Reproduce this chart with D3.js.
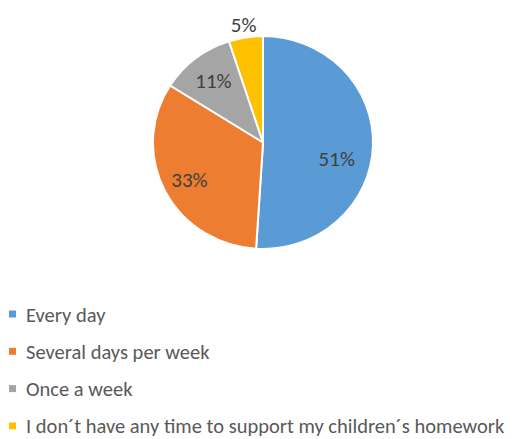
<!DOCTYPE html>
<html><head><meta charset="utf-8">
<script src="https://cdn.jsdelivr.net/npm/d3@7"></script>
<style>body{margin:0;background:#fff}svg{display:block}</style>
</head><body>
<svg id="c" width="526" height="439"></svg>
<script>
const categories = ["Every day", "Several days per week", "Once a week", "I don´t have any time to support my children´s homework"];
const values = [51, 33, 11, 5];
const labels = ["51%", "33%", "11%", "5%"];
const colors = ["#5B9BD5", "#ED7D31", "#A5A5A5", "#FFC000"];

const svg = d3.select("#c");
const cx = 263, cy = 142.5, r = 110, sy = 0.968;
const g = svg.append("g").attr("transform", `translate(${cx},${cy}) scale(1,${sy})`);
const pie = d3.pie().sort(null).value(d => d)(values);
const arc = d3.arc().innerRadius(0).outerRadius(r);
g.selectAll("path").data(pie).join("path")
  .attr("d", arc).attr("fill", (d, i) => colors[i])
  .attr("stroke", "#fff").attr("stroke-width", 2).attr("stroke-linejoin", "round");

// label placement: radius fraction and small nudges (layout only)
const labelR = [0.68, 0.72, 0.72, 1.13];
const nudge = [[-1, 14], [-3, 3], [-1, -1], [0, 1]];
svg.append("g").attr("transform", `translate(${cx},${cy})`)
  .selectAll("text").data(pie).join("text")
  .each(function(d, i) {
    const a = d3.arc().innerRadius(r * labelR[i]).outerRadius(r * labelR[i]);
    const [x, y] = a.centroid(d);
    d3.select(this).attr("x", x + nudge[i][0]).attr("y", y * sy + nudge[i][1]);
  })
  .attr("text-anchor", "middle").attr("dominant-baseline", "central")
  .attr("font-family", "Carlito, Calibri, Lato, sans-serif").attr("font-size", 21)
  .attr("fill", "#404040")
  .text((d, i) => labels[i]);

const leg = svg.append("g").selectAll("g").data(categories).join("g")
  .attr("transform", (d, i) => `translate(9, ${314.5 + i * 37.3})`);
leg.append("rect").attr("x", 0).attr("y", -4).attr("width", 7).attr("height", 7)
  .attr("fill", (d, i) => colors[i]);
leg.append("text").attr("x", 17).attr("y", 0).attr("dominant-baseline", "central")
  .attr("font-family", "Carlito, Calibri, Lato, sans-serif").attr("font-size", 20.5)
  .attr("fill", "#595959").text(d => d);
</script>
</body></html>
